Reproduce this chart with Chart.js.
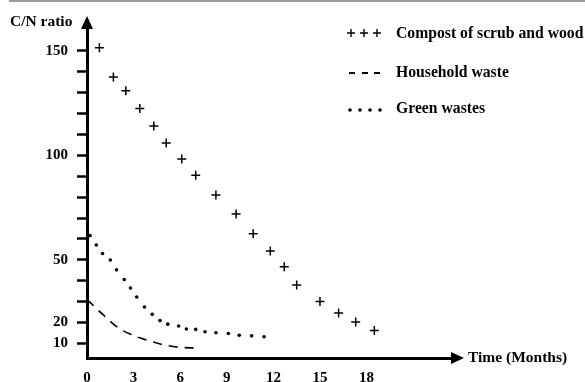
<!DOCTYPE html>
<html>
<head>
<meta charset="utf-8">
<script src="https://cdn.jsdelivr.net/npm/chart.js@4.4.0/dist/chart.umd.min.js"></script>
<style>
    html, body { margin: 0; padding: 0; background: #fff; }
    #wrap { width: 585px; height: 382px; position: relative; }
</style>
</head>
<body>
<div id="wrap"><canvas id="cnChart" width="585" height="382"></canvas></div>
<script>
// Compost of scrub and wood (+ markers)
const compostMonths = [0.8, 1.7, 2.5, 3.4, 4.3, 5.1, 6.1, 7.0, 8.3, 9.6, 10.7, 11.8, 12.7, 13.5, 15.0, 16.2, 17.3, 18.5];
const compostCN = [151.5, 137.5, 131, 122.4, 114.1, 105.9, 98.3, 90.5, 81, 72, 62.5, 54.2, 46.7, 37.9, 30, 24.6, 20.2, 16.2];

// Household waste (dashed curve)
const householdMonths = [0, 1, 2, 3, 4, 5, 6, 7];
const householdCN = [31, 24, 17.5, 13.8, 11.2, 9.2, 8.1, 7.8];

// Green wastes (dots)
const greenMonths = [0.2, 0.6, 1.0, 1.5, 1.9, 2.4, 2.8, 3.2, 3.7, 4.2, 4.7, 5.2, 5.9, 6.4, 7.0, 7.6, 8.3, 9.1, 9.8, 10.6, 11.4];
const greenCN = [61.6, 57.1, 53.0, 49.9, 45.2, 40.6, 36.5, 32.2, 27.4, 23.9, 20.9, 19.2, 18.3, 16.9, 16.7, 15.6, 15.1, 14.7, 13.9, 13.6, 13.2];

const xTicks = [0, 3, 6, 9, 12, 15, 18];
const yTicks = [10, 20, 30, 40, 50, 60, 70, 80, 90, 100, 110, 120, 130, 140, 150];
const yLabels = [10, 20, 50, 100, 150];

const seriesNames = ['Compost of scrub and wood', 'Household waste', 'Green wastes'];

const toPoints = (xs, ys) => xs.map((x, i) => ({ x: x, y: ys[i] }));

const SERIF = "'Liberation Serif', 'Times New Roman', serif";

// axis arrows, axis titles and the hand-drawn legend
const decorations = {
    id: 'decorations',
    afterDraw(chart) {
        const ctx = chart.ctx;
        const area = chart.chartArea;
        ctx.save();

        // grey rule at the very top
        ctx.fillStyle = '#9a9a9a';
        ctx.fillRect(9, 0, 576, 2);

        // arrow heads
        ctx.fillStyle = '#000';
        ctx.beginPath();
        ctx.moveTo(area.left, 16);
        ctx.lineTo(area.left - 6, area.top + 1);
        ctx.lineTo(area.left + 6, area.top + 1);
        ctx.closePath();
        ctx.fill();

        ctx.beginPath();
        ctx.moveTo(area.right + 12, area.bottom);
        ctx.lineTo(area.right - 1, area.bottom - 6);
        ctx.lineTo(area.right - 1, area.bottom + 6);
        ctx.closePath();
        ctx.fill();

        // axis titles
        ctx.textBaseline = 'middle';
        ctx.textAlign = 'left';
        ctx.font = 'bold 15.5px ' + SERIF;
        ctx.fillText('C/N ratio', 10, 22);
        ctx.fillText('Time (Months)', 468, area.bottom);

        // legend
        ctx.font = 'bold 15.7px ' + SERIF;
        const rows = [34, 73, 109];
        seriesNames.forEach((name, i) => ctx.fillText(name, 396, rows[i]));

        ctx.strokeStyle = '#000';
        ctx.lineWidth = 1.4;
        [351, 364, 377].forEach(x => {
            ctx.beginPath();
            ctx.moveTo(x - 4, 33); ctx.lineTo(x + 4, 33);
            ctx.moveTo(x, 29); ctx.lineTo(x, 37);
            ctx.stroke();
        });
        ctx.lineWidth = 2;
        [349, 362, 374].forEach(x => {
            ctx.beginPath();
            ctx.moveTo(x, 73); ctx.lineTo(x + 6, 73);
            ctx.stroke();
        });
        [350, 360, 370, 380].forEach(x => {
            ctx.beginPath();
            ctx.arc(x, 110, 1.8, 0, Math.PI * 2);
            ctx.fill();
        });

        ctx.restore();
    }
};

const ctx = document.getElementById('cnChart').getContext('2d');
const cnChart = new Chart(ctx, {
    type: 'scatter',
    data: {
        datasets: [
            {
                label: seriesNames[0],
                data: toPoints(compostMonths, compostCN),
                pointStyle: 'cross',
                pointRadius: 4.5,
                borderColor: '#000',
                borderWidth: 1.5,
                showLine: false,
                clip: false
            },
            {
                label: seriesNames[1],
                data: toPoints(householdMonths, householdCN),
                showLine: true,
                pointRadius: 0,
                borderColor: '#000',
                borderWidth: 1.6,
                borderDash: [9, 7],
                cubicInterpolationMode: 'monotone',
                clip: false
            },
            {
                label: seriesNames[2],
                data: toPoints(greenMonths, greenCN),
                pointStyle: 'circle',
                pointRadius: 1.8,
                backgroundColor: '#000',
                borderColor: '#000',
                borderWidth: 0,
                showLine: false,
                clip: false
            }
        ]
    },
    options: {
        responsive: false,
        animation: false,
        devicePixelRatio: 1,
        layout: { padding: { left: 0, top: 28, right: 133, bottom: 0 } },
        plugins: {
            legend: { display: false },
            tooltip: { enabled: false }
        },
        scales: {
            x: {
                type: 'linear',
                min: 0,
                max: 23.5,
                afterBuildTicks: (axis) => { axis.ticks = xTicks.map(v => ({ value: v })); },
                afterFit: (scale) => { scale.height = 24; },
                grid: { display: true, drawOnChartArea: false, drawTicks: false },
                border: { display: true, color: '#000', width: 3 },
                ticks: {
                    color: '#000',
                    padding: 11,
                    maxRotation: 0,
                    font: { family: SERIF, size: 15, weight: 'bold' }
                }
            },
            y: {
                type: 'linear',
                min: 3,
                max: 161,
                afterBuildTicks: (axis) => { axis.ticks = yTicks.map(v => ({ value: v })); },
                afterFit: (scale) => { scale.width = 87; },
                grid: {
                    display: true,
                    drawOnChartArea: false,
                    drawTicks: true,
                    tickLength: 10,
                    tickWidth: 2.5,
                    tickColor: '#000'
                },
                border: { display: true, color: '#000', width: 3 },
                ticks: {
                    color: '#000',
                    padding: 9,
                    font: { family: SERIF, size: 15, weight: 'bold' },
                    callback: (v) => yLabels.includes(v) ? String(v) : ''
                }
            }
        }
    },
    plugins: [decorations]
});
</script>
</body>
</html>
